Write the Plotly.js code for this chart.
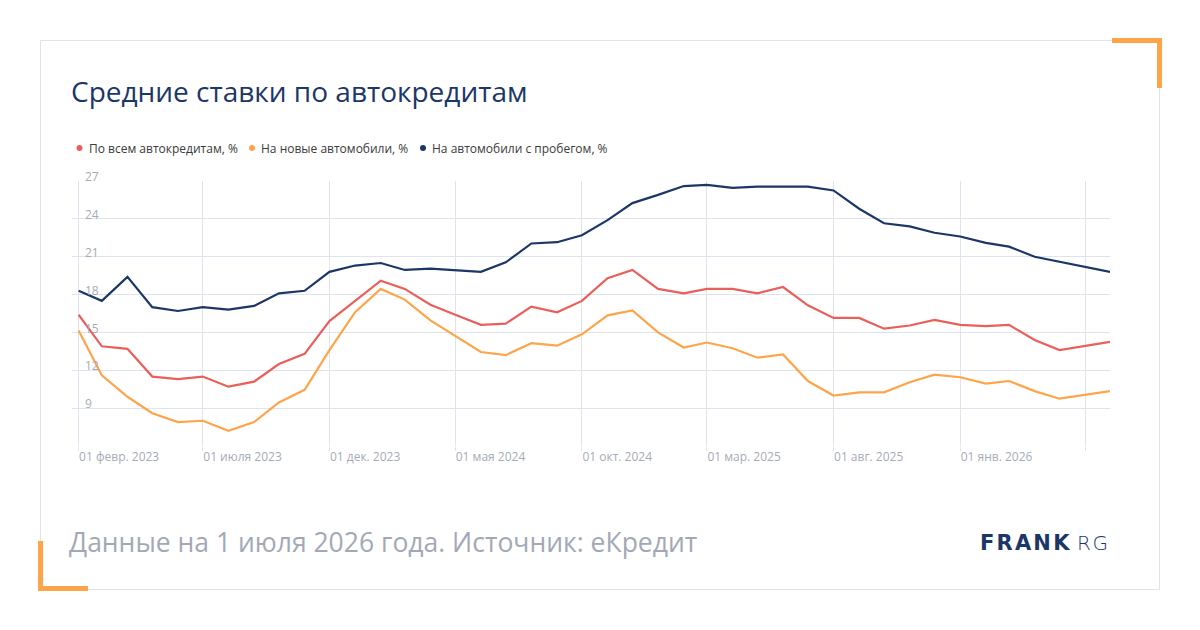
<!DOCTYPE html>
<html>
<head>
<meta charset="utf-8">
<script src="https://cdn.plot.ly/plotly-3.0.1.min.js"></script>
<style>
  html, body { margin: 0; padding: 0; background: #ffffff; }
  #chart { width: 1200px; height: 630px; }
</style>
</head>
<body>
<div id="chart"></div>
<script>
// ---------- DATA ----------
const months = [
  '2023-02-01','2023-03-01','2023-04-01','2023-05-01','2023-06-01','2023-07-01',
  '2023-08-01','2023-09-01','2023-10-01','2023-11-01','2023-12-01','2024-01-01',
  '2024-02-01','2024-03-01','2024-04-01','2024-05-01','2024-06-01','2024-07-01',
  '2024-08-01','2024-09-01','2024-10-01','2024-11-01','2024-12-01','2025-01-01',
  '2025-02-01','2025-03-01','2025-04-01','2025-05-01','2025-06-01','2025-07-01',
  '2025-08-01','2025-09-01','2025-10-01','2025-11-01','2025-12-01','2026-01-01',
  '2026-02-01','2026-03-01','2026-04-01','2026-05-01','2026-06-01','2026-07-01'
];

const allLoans = [
  16.4, 13.9, 13.7, 11.5, 11.3, 11.5, 10.7, 11.1, 12.5, 13.3, 15.9, 17.5,
  19.1, 18.45, 17.2, 16.4, 15.6, 15.7, 17.05, 16.6, 17.5, 19.3, 19.95, 18.45,
  18.1, 18.45, 18.45, 18.1, 18.6, 17.15, 16.15, 16.15, 15.3, 15.55, 16.0, 15.6,
  15.5, 15.6, 14.4, 13.6, 13.95, 14.25
];

const newCars = [
  15.15, 11.6, 9.9, 8.6, 7.9, 8.0, 7.2, 7.9, 9.45, 10.45, 13.6, 16.6,
  18.45, 17.6, 15.95, 14.75, 13.45, 13.2, 14.15, 13.95, 14.85, 16.35, 16.75, 15.0,
  13.8, 14.2, 13.75, 13.0, 13.25, 11.15, 10.0, 10.25, 10.25, 11.05, 11.65, 11.45,
  10.95, 11.15, 10.35, 9.75, 10.05, 10.35
];

const usedCars = [
  18.3, 17.5, 19.4, 17.0, 16.7, 17.0, 16.8, 17.1, 18.1, 18.3, 19.8, 20.3,
  20.5, 19.95, 20.05, 19.95, 19.8, 20.55, 22.05, 22.15, 22.7, 23.9, 25.25, 25.9,
  26.6, 26.7, 26.45, 26.55, 26.55, 26.55, 26.25, 24.8, 23.65, 23.4, 22.9, 22.6,
  22.1, 21.8, 21.0, 20.6, 20.2, 19.8
];

const seriesNames = ['По всем автокредитам, %', 'На новые автомобили, %', 'На автомобили с пробегом, %'];
const seriesColors = ['#e95f5a', '#fea54b', '#1c3767'];

const xTickVals = ['2023-02-01','2023-07-01','2023-12-01','2024-05-01','2024-10-01','2025-03-01','2025-08-01','2026-01-01','2026-06-01'];
const xTickText = ['01 февр. 2023','01 июля 2023','01 дек. 2023','01 мая 2024','01 окт. 2024','01 мар. 2025','01 авг. 2025','01 янв. 2026',''];
const yTickVals = [6, 9, 12, 15, 18, 21, 24, 27];
const yTickText = ['', '9', '12', '15', '18', '21', '24', '27'];

const titleText = 'Средние ставки по автокредитам';
const footerText = 'Данные на 1 июля 2026 года. Источник: еКредит';

// ---------- GEOMETRY HELPERS ----------
const L = 72, R = 1110, T = 181, B = 446;
const W = R - L, H = B - T;
const PX = x => (x - L) / W;
const PY = y => (B - y) / H;

const FONT = '"Open Sans", "Noto Sans", sans-serif';
const GRID = '#dfe3ee';
const TICKC = '#a6abb8';

// ---------- TRACES ----------
const seriesData = [allLoans, newCars, usedCars];
const traces = seriesData.map((vals, i) => ({
  type: 'scatter',
  mode: 'lines',
  x: months,
  y: vals,
  name: seriesNames[i],
  line: { color: seriesColors[i], width: 2.2 },
  showlegend: false,
  hoverinfo: 'x+y'
}));

// ---------- LEGEND (annotations + dots) ----------
const legendDotX = [79.5, 252, 423];
const legendY = 148;
const annotations = [];
const shapes = [];
seriesNames.forEach((n, i) => {
  shapes.push({
    type: 'circle', xref: 'paper', yref: 'paper',
    xsizemode: 'pixel', ysizemode: 'pixel',
    xanchor: PX(legendDotX[i]), yanchor: PY(legendY),
    x0: -3, x1: 3, y0: -3, y1: 3,
    fillcolor: seriesColors[i], line: { width: 0 }
  });
  annotations.push({
    xref: 'paper', yref: 'paper',
    x: PX(legendDotX[i] + 7), y: PY(legendY),
    xanchor: 'left', yanchor: 'middle',
    text: n, showarrow: false,
    font: { family: FONT, size: 12, color: '#3a3a3a' }
  });
});

// Title
annotations.push({
  xref: 'paper', yref: 'paper', x: PX(69), y: PY(91),
  xanchor: 'left', yanchor: 'middle', showarrow: false,
  text: titleText,
  font: { family: FONT, size: 28, color: '#1c3767' }
});
// Footer
annotations.push({
  xref: 'paper', yref: 'paper', x: PX(67), y: PY(542),
  xanchor: 'left', yanchor: 'middle', showarrow: false,
  text: footerText,
  font: { family: FONT, size: 26.5, color: '#a3a8b6' }
});
// Logo
annotations.push({
  xref: 'paper', yref: 'paper', x: PX(978), y: PY(543),
  xanchor: 'left', yanchor: 'middle', showarrow: false,
  text: '<span style="letter-spacing:2.2px">FRANK</span>',
  font: { family: '"DejaVu Sans", sans-serif', size: 21, color: '#1c3767', weight: 900 }
});
annotations.push({
  xref: 'paper', yref: 'paper', x: PX(1111), y: PY(543),
  xanchor: 'right', yanchor: 'middle', showarrow: false,
  text: '<span style="letter-spacing:1.5px">RG</span>',
  font: { family: '"DejaVu Sans", sans-serif', size: 20, color: '#1c3767', weight: 200 }
});

// Card border
shapes.push({
  type: 'rect', xref: 'paper', yref: 'paper', layer: 'below',
  x0: PX(40.5), x1: PX(1159.5), y0: PY(40.5), y1: PY(589.5),
  line: { color: '#e3e3e3', width: 1 }, fillcolor: 'rgba(0,0,0,0)'
});
// Orange corner brackets
function pathP(pts) {
  return pts.map((p, i) => (i ? 'L ' : 'M ') + PX(p[0]) + ' ' + PY(p[1])).join(' ');
}
shapes.push({
  type: 'path', xref: 'paper', yref: 'paper',
  path: pathP([[1112, 40.5], [1159.5, 40.5], [1159.5, 88]]),
  line: { color: '#fea54b', width: 5 }
});
shapes.push({
  type: 'path', xref: 'paper', yref: 'paper',
  path: pathP([[40.5, 541], [40.5, 588.5], [88, 588.5]]),
  line: { color: '#fea54b', width: 5 }
});

const layout = {
  width: 1200, height: 630,
  margin: { l: L, r: 1200 - R, t: T, b: 630 - B, pad: 0 },
  paper_bgcolor: '#ffffff', plot_bgcolor: '#ffffff',
  font: { family: FONT, size: 12, color: TICKC },
  showlegend: false,
  xaxis: {
    type: 'date',
    range: ['2023-01-24', '2026-07-01'],
    tickmode: 'array', tickvals: xTickVals, ticktext: xTickText,
    ticklabelposition: 'outside right',
    ticks: 'outside', ticklen: 4, tickcolor: GRID, tickwidth: 1,
    showgrid: true, gridcolor: GRID, gridwidth: 1,
    zeroline: false, showline: false,
    tickfont: { family: FONT, size: 12, color: TICKC },
    fixedrange: true
  },
  yaxis: {
    range: [6, 27],
    tickmode: 'array', tickvals: yTickVals, ticktext: yTickText,
    ticklabelposition: 'inside',
    ticklabelshift: -4,
    ticklabelstandoff: 10,
    ticklabeloverflow: 'allow',
    ticks: '',
    showgrid: true, gridcolor: GRID, gridwidth: 1,
    zeroline: false, showline: false,
    tickfont: { family: FONT, size: 12, color: TICKC },
    fixedrange: true
  },
  annotations: annotations,
  shapes: shapes
};

Plotly.newPlot('chart', traces, layout, { displayModeBar: false, staticPlot: true });
</script>
</body>
</html>
